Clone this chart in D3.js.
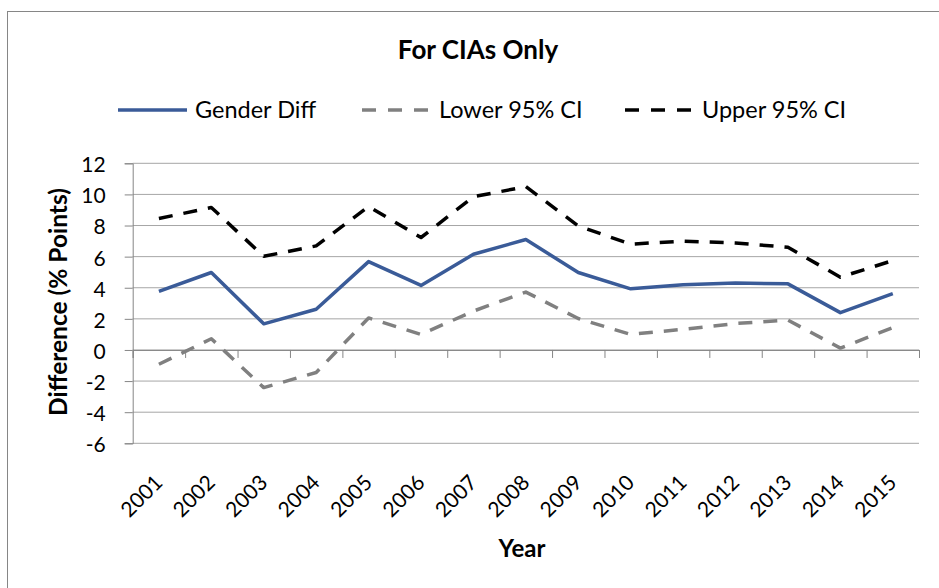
<!DOCTYPE html>
<html>
<head>
<meta charset="utf-8">
<script src="https://cdn.jsdelivr.net/npm/d3@7"></script>
<style>
  body { margin: 0; background: #fff; }
  text { font-family: Lato, "Open Sans", sans-serif; fill: #000; }
</style>
</head>
<body>
<svg width="939" height="588"></svg>
<script>
// chart values
const years = ["2001","2002","2003","2004","2005","2006","2007","2008","2009","2010","2011","2012","2013","2014","2015"];
const genderDiff = [3.76, 4.98, 1.68, 2.62, 5.68, 4.15, 6.15, 7.1, 4.98, 3.93, 4.2, 4.3, 4.25, 2.4, 3.62];
const lower95 = [-0.92, 0.72, -2.42, -1.45, 2.06, 1.0, 2.5, 3.72, 2.02, 1.0, 1.33, 1.7, 1.92, 0.12, 1.44];
const upper95 = [8.45, 9.16, 6.02, 6.69, 9.22, 7.23, 9.85, 10.5, 7.97, 6.8, 7.0, 6.88, 6.6, 4.68, 5.75];
const yTicks = [-6, -4, -2, 0, 2, 4, 6, 8, 10, 12];

const series = [
  { name: "Gender Diff", values: genderDiff, color: "#3a5b98", dash: null },
  { name: "Lower 95% CI", values: lower95, color: "#808080", dash: "14,11" },
  { name: "Upper 95% CI", values: upper95, color: "#000000", dash: "14,11" }
];

const svg = d3.select("svg");
const plotL = 132.7, plotR = 919, plotT = 163.3, plotB = 443.3;

// outer chart border
svg.append("rect")
   .attr("x", 7.5).attr("y", 11.5)
   .attr("width", 1000).attr("height", 1000)
   .attr("fill", "none").attr("stroke", "#868686");

const x = d3.scaleBand().domain(years).range([plotL, plotR]);
const xEdge = d3.scaleLinear().domain([0, years.length]).range([plotL, plotR]);
const y = d3.scaleLinear().domain([-6, 12]).range([plotB, plotT]);

// gridlines
svg.append("g")
   .selectAll("line")
   .data(yTicks)
   .enter()
   .append("line")
   .attr("x1", plotL).attr("x2", plotR)
   .attr("y1", d => y(d)).attr("y2", d => y(d))
   .attr("stroke", "#a6a6a6").attr("stroke-width", 1);

// y axis
const yAxis = svg.append("g")
   .attr("transform", `translate(${plotL},0)`)
   .call(d3.axisLeft(y).tickValues(yTicks).tickSize(8).tickPadding(6));
yAxis.select(".domain").attr("stroke", "#868686");
yAxis.selectAll(".tick line").attr("stroke", "#868686");
yAxis.selectAll(".tick text")
     .attr("font-size", 21)
     .attr("font-family", "Lato, sans-serif")
     .attr("fill", "#000")
     .attr("dx", -13)
     .attr("dy", "0.4em")
     .text(d => d < 0 ? "-" + Math.abs(d) : d);

// x axis at zero with ticks between categories
const xAxis = svg.append("g")
   .attr("transform", `translate(0,${y(0)})`)
   .call(d3.axisBottom(xEdge).tickValues(d3.range(years.length + 1)).tickSize(8).tickFormat(""));
xAxis.select(".domain").attr("stroke", "#868686");
xAxis.selectAll(".tick line").attr("stroke", "#868686");

// rotated year labels below plot
svg.append("g")
   .selectAll("text")
   .data(years)
   .enter()
   .append("text")
   .attr("text-anchor", "end")
   .attr("font-size", 21)
   .attr("transform", d => `translate(${x(d) + x.bandwidth() / 2 + 5},484) rotate(-45)`)
   .text(d => d);

// lines
const line = d3.line()
   .x((d, i) => x(years[i]) + x.bandwidth() / 2)
   .y(d => y(d));

svg.append("g")
   .selectAll("path")
   .data(series.slice().reverse())
   .enter()
   .append("path")
   .attr("d", d => line(d.values))
   .attr("fill", "none")
   .attr("stroke", d => d.color)
   .attr("stroke-width", 3.5)
   .attr("stroke-linejoin", "round")
   .attr("stroke-dasharray", d => d.dash);

// title
svg.append("text")
   .attr("x", 478).attr("y", 59)
   .attr("text-anchor", "middle")
   .attr("font-size", 26).attr("font-weight", "bold")
   .text("For CIAs Only");

// legend
const legendX = [118, 362, 625];
const legend = svg.append("g")
   .selectAll("g")
   .data(series)
   .enter()
   .append("g")
   .attr("transform", (d, i) => `translate(${legendX[i]},110)`);
legend.append("line")
   .attr("x1", 0).attr("x2", 69)
   .attr("stroke", d => d.color)
   .attr("stroke-width", 3.5)
   .attr("stroke-dasharray", d => d.dash ? "14,12" : null);
legend.append("text")
   .attr("x", 77).attr("y", 8)
   .attr("font-size", 23.5)
   .text(d => d.name);

// axis titles
svg.append("text")
   .attr("transform", `translate(67,302) rotate(-90)`)
   .attr("text-anchor", "middle")
   .attr("font-size", 24.5).attr("font-weight", "bold")
   .text("Difference (% Points)");

svg.append("text")
   .attr("x", 522).attr("y", 557)
   .attr("text-anchor", "middle")
   .attr("font-size", 24).attr("font-weight", "bold")
   .text("Year");
</script>
</body>
</html>
